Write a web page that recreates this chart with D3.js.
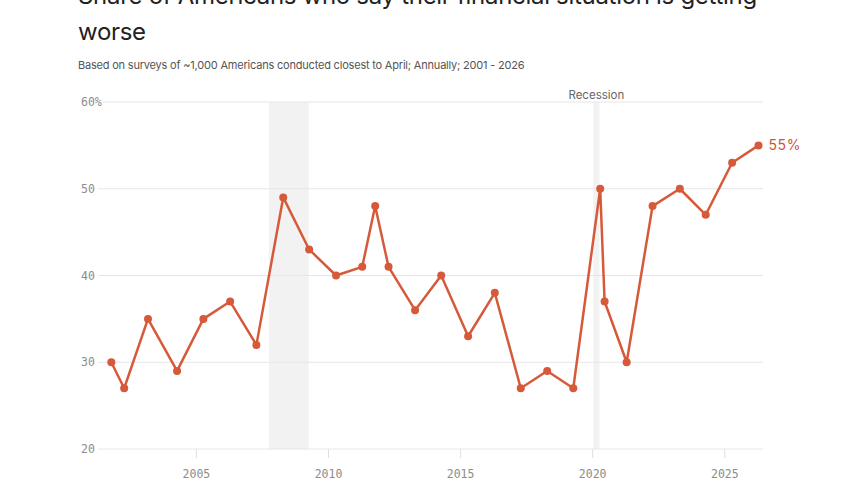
<html>
  <head>
    <script src="https://cdn.jsdelivr.net/npm/d3@7"></script>
    <style>
      body { margin: 0; background: #fff; }
      svg text { font-family: Inter, "Noto Sans", sans-serif; }
      .mono { font-family: "DejaVu Sans Mono", "Liberation Mono", monospace; }
    </style>
  </head>
  <body>
    <script>
      // survey dates and share who say finances are getting worse (%)
      const surveyDates = [
        "2001-10-12", "2002-04-08", "2003-03-03", "2004-04-08", "2005-04-07",
        "2006-04-12", "2007-04-10", "2008-04-15", "2009-04-08", "2010-04-15",
        "2011-04-12", "2011-10-08", "2012-04-10", "2013-04-12", "2014-04-08",
        "2015-04-15", "2016-04-18", "2017-04-12", "2018-04-12", "2019-04-08",
        "2020-04-14", "2020-06-14", "2021-04-15", "2022-04-08", "2023-04-20",
        "2024-04-12", "2025-04-12", "2026-04-12"
      ];
      const worseShare = [
        30, 27, 35, 29, 35,
        37, 32, 49, 43, 40,
        41, 48, 41, 36, 40,
        33, 38, 27, 29, 27,
        50, 37, 30, 48, 50,
        47, 53, 55
      ];
      const recessionStarts = ["2007-10-01", "2020-01-10"];
      const recessionEnds = ["2009-04-02", "2020-04-03"];
      const yTicks = [20, 30, 40, 50, 60];
      const xTickYears = [2005, 2010, 2015, 2020, 2025];

      const width = 860, height = 504;
      const parse = d3.timeParse("%Y-%m-%d");
      const data = surveyDates.map((d, i) => ({ date: parse(d), value: worseShare[i] }));

      const svg = d3.select("body").append("svg")
          .attr("width", width)
          .attr("height", height);

      const x = d3.scaleTime()
          .domain([parse("2001-04-11"), parse("2026-06-13")])
          .range([98, 763]);
      const y = d3.scaleLinear()
          .domain([20, 60])
          .range([449, 102]);

      // title + subtitle
      const title = svg.append("text")
          .attr("x", 78)
          .attr("fill", "#222")
          .style("font-size", "24px")
          .style("letter-spacing", "-0.3px");
      title.append("tspan").attr("x", 78).attr("y", 4)
          .text("Share of Americans who say their financial situation is getting");
      title.append("tspan").attr("x", 78).attr("y", 40).text("worse");

      svg.append("text")
          .attr("x", 78).attr("y", 69)
          .attr("fill", "#555")
          .style("font-size", "11px")
          .style("letter-spacing", "-0.2px")
          .text("Based on surveys of ~1,000 Americans conducted closest to April; Annually; 2001 - 2026");

      // recession bands
      svg.append("g").selectAll("rect")
        .data(recessionStarts)
        .join("rect")
          .attr("x", (d, i) => x(parse(d)))
          .attr("width", (d, i) => x(parse(recessionEnds[i])) - x(parse(d)))
          .attr("y", y(60))
          .attr("height", y(20) - y(60))
          .attr("fill", "#f2f2f2");

      const r2 = (x(parse(recessionStarts[1])) + x(parse(recessionEnds[1]))) / 2;
      svg.append("text")
          .attr("x", r2).attr("y", 99)
          .attr("text-anchor", "middle")
          .attr("fill", "#666")
          .style("font-size", "11.5px")
          .text("Recession");

      // y gridlines + labels
      const yAxis = svg.append("g");
      yAxis.selectAll("line")
        .data(yTicks)
        .join("line")
          .attr("x1", 98).attr("x2", 763)
          .attr("y1", d => y(d)).attr("y2", d => y(d))
          .attr("stroke", "#e6e6e6");
      yAxis.selectAll("text")
        .data(yTicks)
        .join("text")
          .attr("class", "mono")
          .attr("x", 81)
          .attr("y", d => y(d))
          .attr("dy", "0.35em")
          .attr("fill", "#8c8c8c")
          .attr("stroke", "#fff")
          .attr("stroke-width", 3)
          .attr("paint-order", "stroke")
          .style("font-size", "11.5px")
          .text(d => d === 60 ? d + "%" : d);

      // x ticks
      const xAxis = svg.append("g");
      const tickDates = xTickYears.map(yr => new Date(yr, 0, 1));
      xAxis.selectAll("line")
        .data(tickDates)
        .join("line")
          .attr("x1", d => x(d)).attr("x2", d => x(d))
          .attr("y1", 449).attr("y2", 458)
          .attr("stroke", "#e0e0e0");
      xAxis.selectAll("text")
        .data(tickDates)
        .join("text")
          .attr("class", "mono")
          .attr("x", d => x(d))
          .attr("y", 478)
          .attr("text-anchor", "middle")
          .attr("fill", "#8c8c8c")
          .style("font-size", "11.5px")
          .text(d => d3.timeFormat("%Y")(d));

      // line + dots
      const lineColor = "#d65a3a";
      const line = d3.line()
          .x(d => x(d.date))
          .y(d => y(d.value));

      svg.append("path")
          .datum(data)
          .attr("fill", "none")
          .attr("stroke", lineColor)
          .attr("stroke-width", 2.5)
          .attr("stroke-linejoin", "round")
          .attr("d", line);

      svg.append("g").selectAll("circle")
        .data(data)
        .join("circle")
          .attr("cx", d => x(d.date))
          .attr("cy", d => y(d.value))
          .attr("r", 4)
          .attr("fill", lineColor);

      const last = data[data.length - 1];
      svg.append("text")
          .attr("x", x(last.date) + 10)
          .attr("y", y(last.value))
          .attr("dy", "0.35em")
          .attr("fill", "#c9573a")
          .style("font-size", "14px")
          .style("letter-spacing", "0.6px")
          .text(last.value + "%");
    </script>
  </body>
</html>
